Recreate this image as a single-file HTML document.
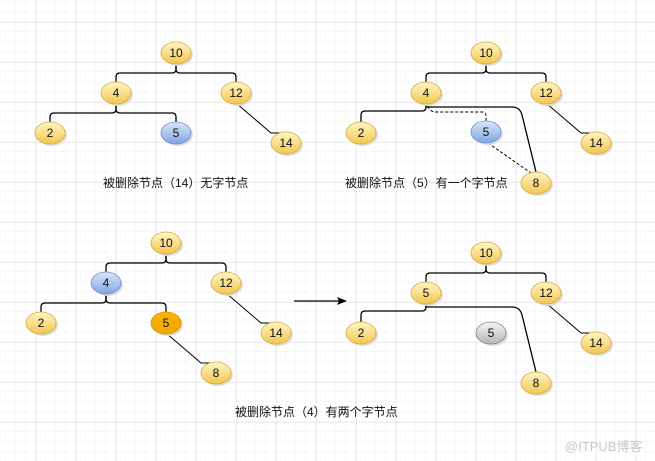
<!DOCTYPE html>
<html><head><meta charset="utf-8"><style>
html,body{margin:0;padding:0;background:#fff}
svg{display:block}
text{font-family:"Liberation Sans","Noto Sans CJK SC",sans-serif}
</style></head><body>
<svg width="655" height="461" viewBox="0 0 655 461" xmlns="http://www.w3.org/2000/svg">
<defs>
<pattern id="minor" width="10" height="10" patternUnits="userSpaceOnUse" x="6" y="2">
<path d="M10 0V10M0 10H10" stroke="#f1f1f1" stroke-width="1" fill="none"/>
</pattern>
<pattern id="major" width="40" height="40" patternUnits="userSpaceOnUse" x="-3.5" y="-17.5">
<path d="M40 0V40M0 40H40" stroke="#dedede" stroke-width="1" fill="none"/>
</pattern>
<linearGradient id="y" x1="0" y1="0" x2="0" y2="1"><stop offset="0" stop-color="#fff6c8"/><stop offset="1" stop-color="#f3c64e"/></linearGradient>
<linearGradient id="b" x1="0" y1="0" x2="0" y2="1"><stop offset="0" stop-color="#dbe6fa"/><stop offset="1" stop-color="#7fa4e2"/></linearGradient>
<linearGradient id="o" x1="0" y1="0" x2="0" y2="1"><stop offset="0" stop-color="#f9b800"/><stop offset="1" stop-color="#f0a400"/></linearGradient>
<linearGradient id="g" x1="0" y1="0" x2="0" y2="1"><stop offset="0" stop-color="#f6f6f6"/><stop offset="1" stop-color="#b4b4b4"/></linearGradient>
</defs>
<rect width="655" height="461" fill="url(#minor)"/>
<rect width="655" height="461" fill="url(#major)"/>

<g fill="none" stroke="#000" stroke-width="1.3">
<!-- tree 1 -->
<path d="M176 64V69Q176 73 172 73H120Q116 73 116 77V82"/>
<path d="M176 64V69Q176 73 180 73H232Q236 73 236 77V82"/>
<path d="M116 104V109Q116 113 112 113H54Q50 113 50 117V122"/>
<path d="M116 104V109Q116 113 120 113H172Q176 113 176 117V122"/>
<path d="M236 103L271 133H286" stroke-width="1"/>
<!-- tree 2 -->
<path d="M486 64V69Q486 73 482 73H430Q426 73 426 77V82"/>
<path d="M486 64V69Q486 73 490 73H542Q546 73 546 77V82"/>
<path d="M426 103V107Q426 111 422 111H365Q361 111 361 115V122"/>
<path d="M426 103V107H512Q520 107 522 115L536 172"/>
<path d="M546 103L581 133H596" stroke-width="1"/>
<path d="M428 106Q430 112 436 112H482Q486 112 486 116V122" stroke-dasharray="3,2" stroke-width="1"/>
<path d="M488 143L531 173" stroke-dasharray="3,2" stroke-width="1"/>
<!-- tree 3 -->
<path d="M166 254V259Q166 263 162 263H110Q106 263 106 267V272"/>
<path d="M166 254V259Q166 263 170 263H222Q226 263 226 267V272"/>
<path d="M106 294V299Q106 303 102 303H45Q41 303 41 307V312"/>
<path d="M106 294V299Q106 303 110 303H162Q166 303 166 307V312"/>
<path d="M226 293L261 323H276" stroke-width="1"/>
<path d="M166 333L201 363H216" stroke-width="1"/>
<!-- tree 4 -->
<path d="M486 264V269Q486 273 482 273H430Q426 273 426 277V282"/>
<path d="M486 264V269Q486 273 490 273H542Q546 273 546 277V282"/>
<path d="M426 303V307Q426 311 422 311H365Q361 311 361 315V322"/>
<path d="M426 303V307H512Q520 307 522 315L536 372"/>
<path d="M546 303L581 333H596" stroke-width="1"/>
<!-- arrow -->
<path d="M294 301H340"/>
</g>
<path d="M347 301L337 297L339 301L337 305Z" fill="#000"/>

<g font-size="12" text-anchor="middle">
<!-- nodes: helper style -->
<g stroke="#d8aa3c" stroke-width="0.8">
<ellipse cx="178" cy="55" rx="15" ry="11" fill="#ddd" stroke="none"/><ellipse cx="176" cy="53" rx="15" ry="11" fill="url(#y)"/>
<ellipse cx="118" cy="95" rx="15" ry="11" fill="#ddd" stroke="none"/><ellipse cx="116" cy="93" rx="15" ry="11" fill="url(#y)"/>
<ellipse cx="238" cy="95" rx="15" ry="11" fill="#ddd" stroke="none"/><ellipse cx="236" cy="93" rx="15" ry="11" fill="url(#y)"/>
<ellipse cx="52" cy="135" rx="15" ry="11" fill="#ddd" stroke="none"/><ellipse cx="50" cy="133" rx="15" ry="11" fill="url(#y)"/>
<ellipse cx="288" cy="145" rx="15" ry="11" fill="#ddd" stroke="none"/><ellipse cx="286" cy="143" rx="15" ry="11" fill="url(#y)"/>

<ellipse cx="488" cy="55" rx="15" ry="11" fill="#ddd" stroke="none"/><ellipse cx="486" cy="53" rx="15" ry="11" fill="url(#y)"/>
<ellipse cx="428" cy="95" rx="15" ry="11" fill="#ddd" stroke="none"/><ellipse cx="426" cy="93" rx="15" ry="11" fill="url(#y)"/>
<ellipse cx="548" cy="95" rx="15" ry="11" fill="#ddd" stroke="none"/><ellipse cx="546" cy="93" rx="15" ry="11" fill="url(#y)"/>
<ellipse cx="363" cy="135" rx="15" ry="11" fill="#ddd" stroke="none"/><ellipse cx="361" cy="133" rx="15" ry="11" fill="url(#y)"/>
<ellipse cx="598" cy="145" rx="15" ry="11" fill="#ddd" stroke="none"/><ellipse cx="596" cy="143" rx="15" ry="11" fill="url(#y)"/>
<ellipse cx="538" cy="185" rx="15" ry="11" fill="#ddd" stroke="none"/><ellipse cx="536" cy="183" rx="15" ry="11" fill="url(#y)"/>

<ellipse cx="168" cy="245" rx="15" ry="11" fill="#ddd" stroke="none"/><ellipse cx="166" cy="243" rx="15" ry="11" fill="url(#y)"/>
<ellipse cx="228" cy="285" rx="15" ry="11" fill="#ddd" stroke="none"/><ellipse cx="226" cy="283" rx="15" ry="11" fill="url(#y)"/>
<ellipse cx="43" cy="325" rx="15" ry="11" fill="#ddd" stroke="none"/><ellipse cx="41" cy="323" rx="15" ry="11" fill="url(#y)"/>
<ellipse cx="278" cy="335" rx="15" ry="11" fill="#ddd" stroke="none"/><ellipse cx="276" cy="333" rx="15" ry="11" fill="url(#y)"/>
<ellipse cx="218" cy="375" rx="15" ry="11" fill="#ddd" stroke="none"/><ellipse cx="216" cy="373" rx="15" ry="11" fill="url(#y)"/>

<ellipse cx="488" cy="255" rx="15" ry="11" fill="#ddd" stroke="none"/><ellipse cx="486" cy="253" rx="15" ry="11" fill="url(#y)"/>
<ellipse cx="428" cy="295" rx="15" ry="11" fill="#ddd" stroke="none"/><ellipse cx="426" cy="293" rx="15" ry="11" fill="url(#y)"/>
<ellipse cx="548" cy="295" rx="15" ry="11" fill="#ddd" stroke="none"/><ellipse cx="546" cy="293" rx="15" ry="11" fill="url(#y)"/>
<ellipse cx="363" cy="335" rx="15" ry="11" fill="#ddd" stroke="none"/><ellipse cx="361" cy="333" rx="15" ry="11" fill="url(#y)"/>
<ellipse cx="598" cy="345" rx="15" ry="11" fill="#ddd" stroke="none"/><ellipse cx="596" cy="343" rx="15" ry="11" fill="url(#y)"/>
<ellipse cx="538" cy="385" rx="15" ry="11" fill="#ddd" stroke="none"/><ellipse cx="536" cy="383" rx="15" ry="11" fill="url(#y)"/>
</g>
<ellipse cx="178" cy="135" rx="15" ry="11" fill="#ddd"/><ellipse cx="176" cy="133" rx="15" ry="11" fill="url(#b)" stroke="#6b8fcf" stroke-width="0.8"/>
<ellipse cx="488" cy="134" rx="15" ry="11" fill="#ddd"/><ellipse cx="486" cy="132" rx="15" ry="11" fill="url(#b)" stroke="#6b8fcf" stroke-width="0.8"/>
<ellipse cx="108" cy="285" rx="15" ry="11" fill="#ddd"/><ellipse cx="106" cy="283" rx="15" ry="11" fill="url(#b)" stroke="#6b8fcf" stroke-width="0.8"/>
<ellipse cx="168" cy="325" rx="15" ry="11" fill="#ddd"/><ellipse cx="166" cy="323" rx="15" ry="11" fill="url(#o)" stroke="#d99000" stroke-width="0.8"/>
<ellipse cx="493" cy="335" rx="15" ry="11" fill="#ddd"/><ellipse cx="491" cy="333" rx="15" ry="11" fill="url(#g)" stroke="#888" stroke-width="0.8"/>

<g fill="#111">
<text x="176" y="57">10</text><text x="116" y="97">4</text><text x="236" y="97">12</text><text x="50" y="137">2</text><text x="176" y="137">5</text><text x="286" y="147">14</text>
<text x="486" y="57">10</text><text x="426" y="97">4</text><text x="546" y="97">12</text><text x="361" y="137">2</text><text x="486" y="136">5</text><text x="596" y="147">14</text><text x="536" y="187">8</text>
<text x="166" y="247">10</text><text x="106" y="287">4</text><text x="226" y="287">12</text><text x="41" y="327">2</text><text x="166" y="327">5</text><text x="276" y="337">14</text><text x="216" y="377">8</text>
<text x="486" y="257">10</text><text x="426" y="297">5</text><text x="546" y="297">12</text><text x="361" y="337">2</text><text x="491" y="337">5</text><text x="596" y="347">14</text><text x="536" y="387">8</text>
</g>
</g>
<g font-size="12" fill="#111">
<text x="103" y="187">被删除节点（14）无字节点</text>
<text x="345" y="187">被删除节点（5）有一个字节点</text>
<text x="235" y="416">被删除节点（4）有两个字节点</text>
</g>
<text x="565" y="451" font-size="13" fill="#c8c8c8">@ITPUB博客</text>
</svg>
</body></html>
